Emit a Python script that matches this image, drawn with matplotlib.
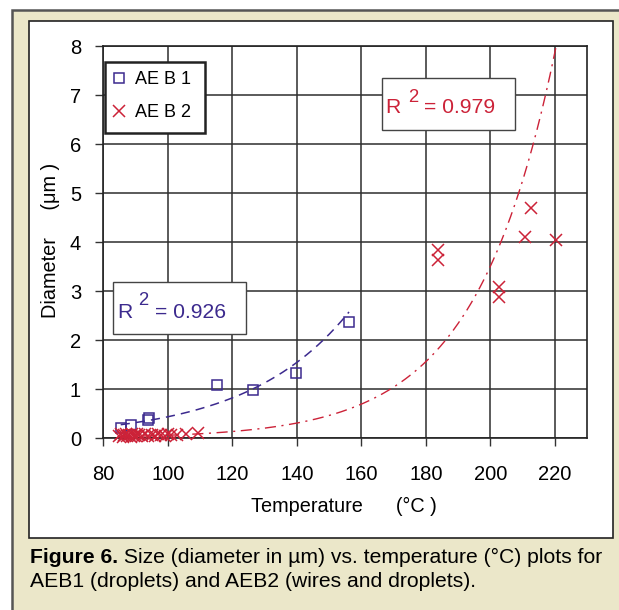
import numpy as np
import matplotlib
matplotlib.use("Agg")
import matplotlib.pyplot as plt
from matplotlib.patches import Rectangle

plt.rcParams['font.family'] = ['Liberation Sans', 'DejaVu Sans']

# ---- data ----
aeb1_temp = [85.4, 88.6, 93.9, 94.1, 115.2, 126.5, 139.8, 156.2]
aeb1_diam = [0.20, 0.28, 0.38, 0.42, 1.08, 0.98, 1.33, 2.37]

aeb2_temp = [85, 85.5, 86, 86.5, 87, 87.5, 88, 88.5, 89, 89.5, 90, 90.5, 91, 92,
             93, 94, 95, 96, 97, 98, 99, 100, 101, 103, 105.6, 109.4,
             183.9, 183.9, 202.7, 202.7, 210.8, 212.6, 220.3]
aeb2_diam = [0.04, 0.08, 0.03, 0.06, 0.09, 0.04, 0.07, 0.03, 0.08, 0.05, 0.04, 0.09,
             0.06, 0.05, 0.08, 0.04, 0.07, 0.05, 0.09, 0.06, 0.04, 0.08, 0.07, 0.06,
             0.08, 0.10,
             3.84, 3.64, 3.08, 2.88, 4.11, 4.69, 4.05]

# exponential trendlines y = a*exp(b*x)
fit1_a, fit1_b, fit1_range = 0.0188, 0.0315, (85.4, 156.2)
fit2_a, fit2_b, fit2_range = 0.001085, 0.0404, (85.0, 220.3)
r2_aeb1 = "0.926"
r2_aeb2 = "0.979"

x_ticks = [80, 100, 120, 140, 160, 180, 200, 220]
y_ticks = [0, 1, 2, 3, 4, 5, 6, 7, 8]

x_label = "Temperature      (°C )"
y_label = "Diameter     (μm )"
caption_bold = "Figure 6."
caption_rest = " Size (diameter in µm) vs. temperature (°C) plots for"
caption_line2 = "AEB1 (droplets) and AEB2 (wires and droplets)."

blue = "#3c2a8e"
red = "#cc2238"
W, H = 619, 610

fig = plt.figure(figsize=(W / 100, H / 100), dpi=100)
fig.patch.set_facecolor("white")

def fr(x0, y0, x1, y1):
    return (x0 / W, 1 - y1 / H), (x1 - x0) / W, (y1 - y0) / H

def ptext(x, y, s, **kw):
    return fig.text(x / W, 1 - y / H, s, **kw)

xy, w, h = fr(12, 10, 640, 640)
fig.patches.append(Rectangle(xy, w, h, transform=fig.transFigure, facecolor="#ebe7c9",
                             edgecolor="#555555", linewidth=1.8, zorder=-2))
xy, w, h = fr(29, 21, 613, 538)
fig.patches.append(Rectangle(xy, w, h, transform=fig.transFigure, facecolor="white",
                             edgecolor="#222222", linewidth=1.2, zorder=-1))

AX_L, AX_R, AX_T, AX_B = 103.3, 587.0, 46.0, 438.3
ax = fig.add_axes([AX_L / W, 1 - AX_B / H, (AX_R - AX_L) / W, (AX_B - AX_T) / H])
ax.set_facecolor("white")
ax.set_xlim(80, 230)
ax.set_ylim(0, 8)
ax.set_xticks(x_ticks)
ax.set_yticks(y_ticks)
ax.grid(True, color="#2e2e2e", linewidth=1.1)
ax.set_axisbelow(True)
for s in ax.spines.values():
    s.set_color("#222222")
    s.set_linewidth(1.2)
ax.tick_params(direction="out", length=6, width=1, color="#333333", labelsize=14.5)
ax.tick_params(axis="x", pad=13)
ax.tick_params(axis="y", pad=10)

# trendlines
x1 = np.linspace(*fit1_range, 200)
ax.plot(x1, fit1_a * np.exp(fit1_b * x1), color=blue, lw=1.1, ls=(0, (6, 4)), zorder=3)
x2 = np.linspace(*fit2_range, 300)
ax.plot(x2, fit2_a * np.exp(fit2_b * x2), color=red, lw=1.0, ls=(0, (8, 4, 1.5, 4)), zorder=3)

ax.plot(aeb1_temp, aeb1_diam, ls="none", marker="s", markersize=7.5, markerfacecolor="none",
        markeredgecolor=blue, markeredgewidth=1.1, label="AE B 1", zorder=4, clip_on=False)
ax.plot(aeb2_temp, aeb2_diam, ls="none", marker="x", markersize=9,
        markeredgecolor=red, markeredgewidth=1.1, label="AE B 2", zorder=4, clip_on=False)

# legend frame (drawn separately) + frameless legend
xy, w, h = fr(105, 62.5, 204.7, 133.3)
ax.add_patch(Rectangle(xy, w, h, transform=fig.transFigure, facecolor="white",
                       edgecolor="#222222", linewidth=1.8, zorder=4.9, clip_on=False))
leg = ax.legend(loc="upper left", bbox_to_anchor=(105 / W, 1 - 65 / H),
                bbox_transform=fig.transFigure, fontsize=13, frameon=False,
                handlelength=0.9, handletextpad=0.42, borderpad=0.35,
                labelspacing=0.88, borderaxespad=0)
leg.set_zorder(5)

def r2box(box, rx, base, sup_x, sup_base, eq_x, val, col):
    xy, w, h = fr(*box)
    fig.patches.append(Rectangle(xy, w, h, transform=fig.transFigure, facecolor="white",
                                 edgecolor="#444444", linewidth=1.0, zorder=5))
    ptext(rx, base, "R", fontsize=15.2, color=col, va="baseline", zorder=6)
    ptext(sup_x, sup_base, "2", fontsize=13.3, color=col, va="baseline", zorder=6)
    ptext(eq_x, base, "= " + val, fontsize=15.2, color=col, va="baseline", zorder=6)

r2box((382.3, 78.3, 514.5, 130), 385, 113.3, 408, 101.7, 424.5, r2_aeb2, red)
r2box((112.5, 282, 245.7, 334), 116.8, 317.7, 138.5, 305, 155, r2_aeb1, blue)

# axis labels
ptext(344, 512, x_label, fontsize=14.3, ha="center", va="baseline")
ptext(51, 240, y_label, fontsize=14.3, ha="center", va="center", rotation=90)

# caption
fs = 15.2
t1 = ptext(30, 563, caption_bold, fontsize=fs, fontweight="bold", ha="left", va="baseline")
fig.canvas.draw()
bb = t1.get_window_extent()
fig.text(bb.x1 / W, 1 - 563 / H, caption_rest, fontsize=fs, ha="left", va="baseline")
ptext(30, 587, caption_line2, fontsize=fs, ha="left", va="baseline")

fig.savefig("out.png", dpi=100)
